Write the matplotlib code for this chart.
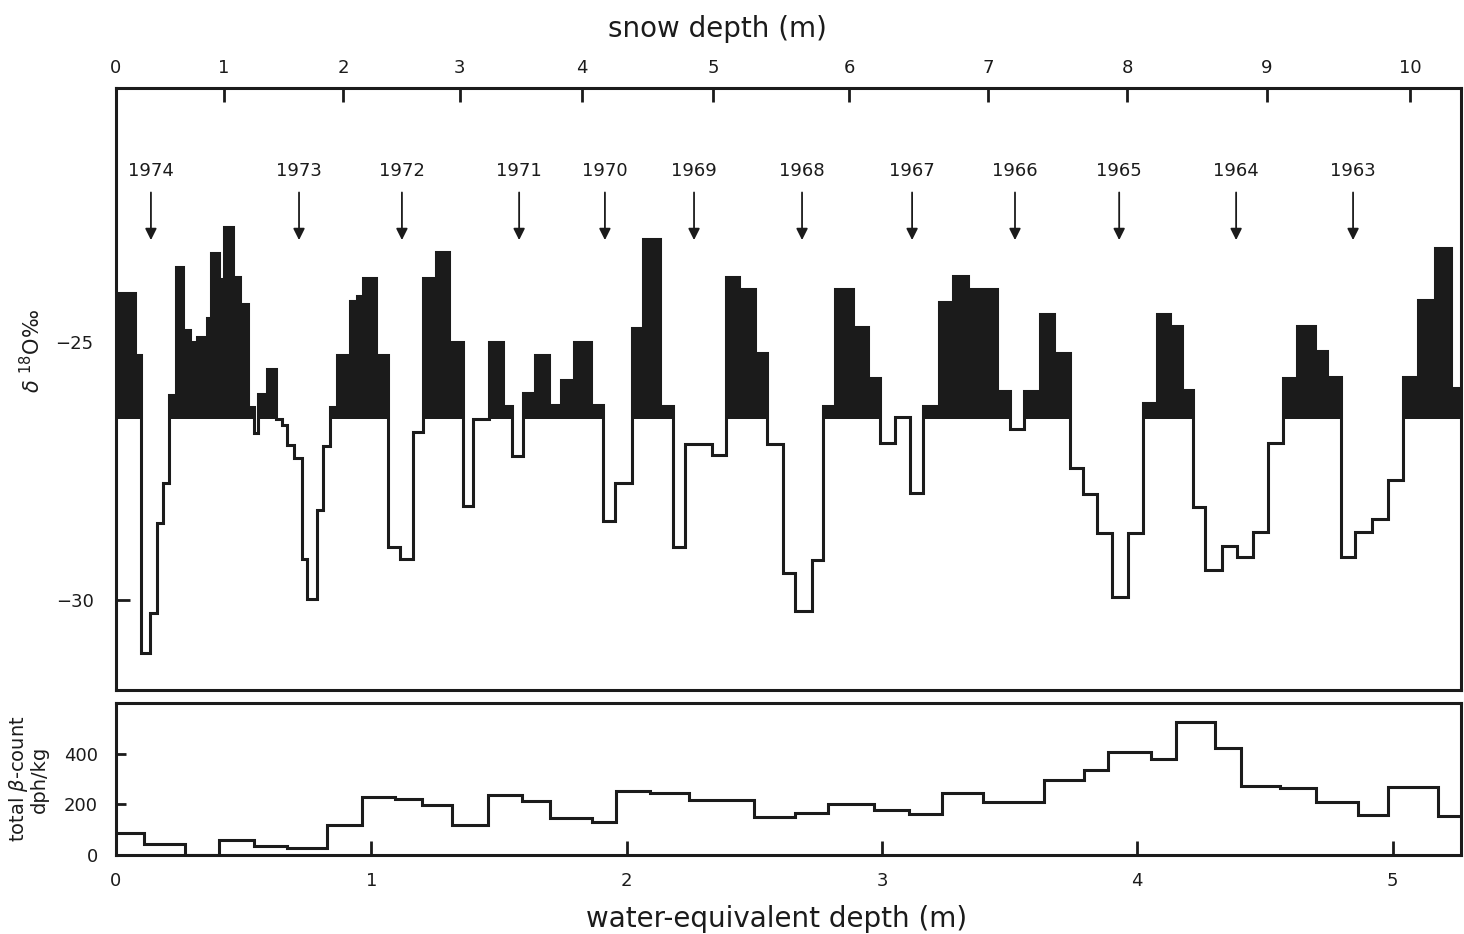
import matplotlib.pyplot as plt
import numpy as np

# delta 18O profile: step edges in water-equivalent depth (m) and values (per mil)
d18o_edges = [0.000, 0.074, 0.098, 0.133, 0.161, 0.184, 0.208, 0.235, 0.262, 0.290,
              0.317, 0.356, 0.372, 0.403, 0.423, 0.458, 0.486, 0.517, 0.541, 0.556,
              0.591, 0.627, 0.650, 0.670, 0.697, 0.729, 0.748, 0.787, 0.811, 0.838,
              0.866, 0.917, 0.944, 0.967, 1.018, 1.065, 1.112, 1.163, 1.203, 1.253,
              1.304, 1.359, 1.398, 1.461, 1.516, 1.551, 1.594, 1.641, 1.696, 1.743,
              1.794, 1.861, 1.908, 1.955, 2.021, 2.064, 2.131, 2.182, 2.229, 2.335,
              2.389, 2.440, 2.503, 2.550, 2.613, 2.660, 2.726, 2.769, 2.816, 2.887,
              2.946, 2.993, 3.051, 3.110, 3.161, 3.224, 3.278, 3.337, 3.451, 3.502,
              3.557, 3.619, 3.674, 3.737, 3.788, 3.843, 3.901, 3.964, 4.023, 4.078,
              4.128, 4.175, 4.219, 4.266, 4.332, 4.391, 4.454, 4.512, 4.571, 4.626,
              4.696, 4.743, 4.798, 4.853, 4.920, 4.982, 5.041, 5.100, 5.166, 5.229,
              5.300]
d18o_values = [-24.05, -25.25, -31.03, -30.25, -28.50, -27.73, -26.03, -23.55, -24.77, -25.00,
               -24.90, -24.54, -23.27, -23.78, -22.77, -23.74, -24.26, -26.26, -26.77, -26.00,
               -25.52, -26.50, -26.61, -27.00, -27.25, -29.20, -29.98, -28.26, -27.02, -26.26,
               -25.25, -24.21, -24.11, -23.76, -25.25, -28.97, -29.20, -26.74, -23.76, -23.26,
               -25.00, -28.18, -26.50, -25.00, -26.24, -27.21, -25.99, -25.25, -26.22, -25.74,
               -25.00, -26.22, -28.47, -27.73, -24.73, -23.00, -26.24, -28.97, -26.98, -27.19,
               -23.74, -23.97, -25.21, -26.98, -29.48, -30.21, -29.22, -26.24, -23.97, -24.71,
               -25.70, -26.96, -26.45, -27.93, -26.24, -24.22, -23.72, -23.97, -25.95, -26.68,
               -25.95, -24.46, -25.21, -27.44, -27.95, -28.70, -29.94, -28.70, -26.18, -24.46,
               -24.69, -25.93, -28.20, -29.42, -28.95, -29.17, -28.68, -26.96, -25.70, -24.69,
               -25.17, -25.68, -29.17, -28.68, -28.43, -27.67, -25.68, -24.19, -23.18, -25.89]
d18o_mean = -26.5

# total beta activity (dph/kg)
beta_edges = [0.000, 0.111, 0.269, 0.403, 0.542, 0.668, 0.826, 0.965, 1.091, 1.197,
              1.317, 1.456, 1.590, 1.698, 1.865, 1.958, 2.093, 2.245, 2.498, 2.661,
              2.789, 2.967, 3.104, 3.235, 3.395, 3.635, 3.790, 3.886, 4.054, 4.150,
              4.305, 4.405, 4.558, 4.700, 4.864, 4.982, 5.177, 5.300]
beta_values = [88, 42, 0, 59, 36, 27, 120, 229, 220, 199,
               120, 235, 214, 145, 129, 253, 246, 216, 150, 167,
               203, 177, 163, 244, 208, 296, 334, 405, 379, 525,
               424, 273, 266, 208, 157, 270, 154]

# annual layer markers
years = [1974, 1973, 1972, 1971, 1970, 1969, 1968, 1967, 1966, 1965, 1964, 1963]
year_depth = [0.137, 0.717, 1.120, 1.579, 1.915, 2.264, 2.687, 3.118, 3.521, 3.929, 4.387, 4.845]

# snow depth scale (top axis), positions in water-equivalent depth
snow_labels = ["0", "1", "2", "3", "4", "5", "6", "7", "8", "9", "10"]
snow_at_we = [0.0, 0.423, 0.889, 1.347, 1.825, 2.338, 2.871, 3.416, 3.960, 4.508, 5.068]

ink = "#1b1b1b"
plt.rcParams["font.family"] = ["DejaVu Sans"]

fig = plt.figure(figsize=(14.64, 9.34), dpi=100)
ax1 = fig.add_axes([0.0792, 0.2612, 0.9188, 0.6446])
ax2 = fig.add_axes([0.0792, 0.0846, 0.9188, 0.1627])

# upper panel
edges = np.array(d18o_edges)
vals = np.array(d18o_values)
above = vals > d18o_mean
ax1.bar(edges[:-1][above], vals[above] - d18o_mean, width=np.diff(edges)[above],
        bottom=d18o_mean, align="edge", color=ink, linewidth=0)
ax1.stairs(vals, edges, baseline=None, color=ink, linewidth=2.2)

for yr, d in zip(years, year_depth):
    ax1.annotate("", xy=(d, -23.08), xytext=(d, -22.05),
                 arrowprops=dict(arrowstyle="-|>", color=ink, lw=1.3, mutation_scale=17))
    ax1.text(d, -21.69, str(yr), ha="center", va="center", fontsize=13, color=ink)

ax1.set_xlim(0, 5.268)
ax1.set_ylim(-31.74, -20.08)
ax1.set_yticks([-25, -30], labels=["\u221225", "\u221230"])
ax1.xaxis.tick_top()
ax1.set_xticks(snow_at_we, labels=snow_labels)
ax1.tick_params(axis="x", direction="in", length=10, width=2, labelsize=13, pad=8, colors=ink)
ax1.tick_params(axis="y", direction="in", length=10, width=2, labelsize=13, pad=16, colors=ink)
ax1.xaxis.set_label_position("top")
ax1.set_xlabel("snow depth (m)", fontsize=20, labelpad=18, color=ink)
ax1.xaxis.set_label_coords(0.447, 1.085)
ax1.set_ylabel(r"$\delta$ $^{18}$O‰", fontsize=15, color=ink)
ax1.yaxis.set_label_coords(-0.053, 0.563)

# lower panel
ax2.stairs(beta_values, beta_edges, baseline=None, color=ink, linewidth=2.2)
ax2.set_xlim(0, 5.268)
ax2.set_ylim(0, 600)
ax2.set_yticks([0, 200, 400])
ax2.set_xticks([0, 1, 2, 3, 4, 5])
ax2.tick_params(axis="x", direction="in", length=10, width=2, labelsize=13, pad=12, colors=ink)
ax2.tick_params(axis="y", direction="in", length=7, width=2, labelsize=13, pad=13, colors=ink)
ax2.set_xlabel("water-equivalent depth (m)", fontsize=20, labelpad=10, color=ink)
ax2.xaxis.set_label_coords(0.491, -0.33)
ax2.set_ylabel("total $\\beta$-count\ndph/kg", fontsize=14, color=ink, linespacing=0.95)
ax2.yaxis.set_label_coords(-0.05, 0.5)

for ax in (ax1, ax2):
    for s in ax.spines.values():
        s.set_linewidth(2.2)
        s.set_color(ink)

fig.savefig("out.png", dpi=100)
